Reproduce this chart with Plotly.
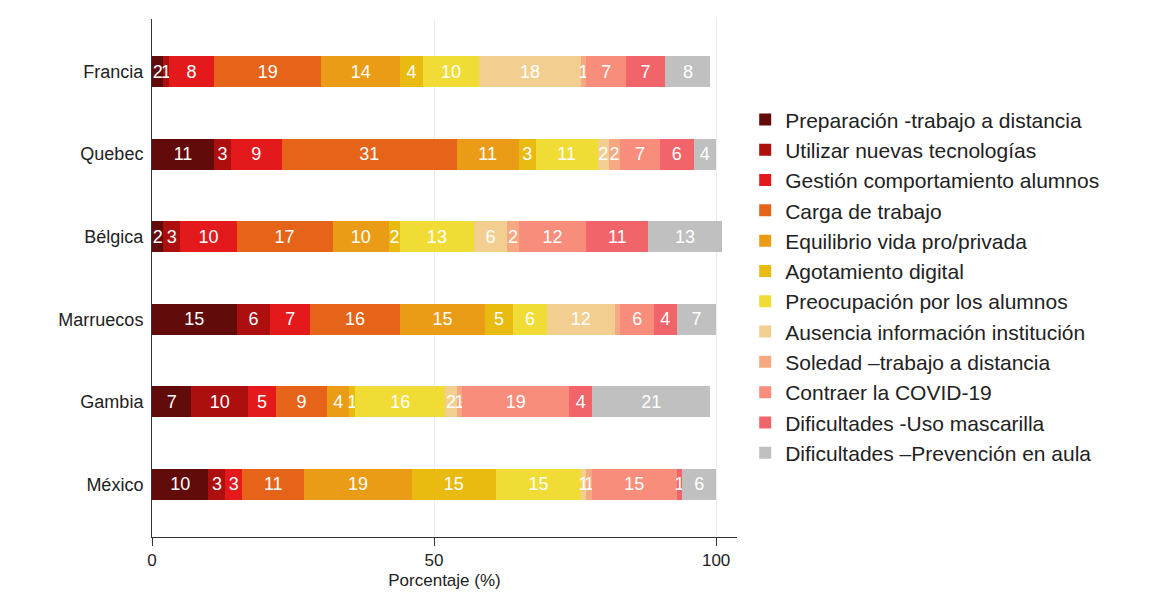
import plotly.graph_objects as go

countries = ["Francia", "Quebec", "Bélgica", "Marruecos", "Gambia", "México"]

categories = [
    "Preparación -trabajo a distancia",
    "Utilizar nuevas tecnologías",
    "Gestión comportamiento alumnos",
    "Carga de trabajo",
    "Equilibrio vida pro/privada",
    "Agotamiento digital",
    "Preocupación por los alumnos",
    "Ausencia información institución",
    "Soledad –trabajo a distancia",
    "Contraer la COVID-19",
    "Dificultades -Uso mascarilla",
    "Dificultades –Prevención en aula",
]

colors = ["#620b0b", "#ad0f0f", "#e3191c", "#e6631a", "#ea9c17", "#e9bb10",
          "#f1dc35", "#f2cf90", "#f6a881", "#f88d7b", "#f1646a", "#c0c0c0"]

# values per category, order = countries
prep         = [2, 11, 2, 15, 7, 10]
utilizar     = [1, 3, 3, 6, 10, 3]
gestion      = [8, 9, 10, 7, 5, 3]
carga        = [19, 31, 17, 16, 9, 11]
equilibrio   = [14, 11, 10, 15, 4, 19]
agotamiento  = [4, 3, 2, 5, 1, 15]
preocupacion = [10, 11, 13, 6, 16, 15]
ausencia     = [18, 2, 6, 12, 2, 1]
soledad      = [1, 2, 2, 1, 1, 1]
contraer     = [7, 7, 12, 6, 19, 15]
mascarilla   = [7, 6, 11, 4, 4, 1]
prevencion   = [8, 4, 13, 7, 21, 6]

series = [prep, utilizar, gestion, carga, equilibrio, agotamiento,
          preocupacion, ausencia, soledad, contraer, mascarilla, prevencion]

# labels not shown in the reference (country, category index)
hidden_labels = [("Marruecos", 8)]

fig = go.Figure()
for i, (name, vals, col) in enumerate(zip(categories, series, colors)):
    texts = []
    for c, v in zip(countries, vals):
        texts.append("" if (c, i) in hidden_labels else str(v))
    fig.add_trace(go.Bar(
        x=vals, y=countries, orientation="h", name=name,
        marker=dict(color=col, line=dict(width=0)),
        text=texts, textposition="inside", insidetextanchor="middle",
        constraintext="none", cliponaxis=False,
        textfont=dict(color="white", size=18, family="Liberation Sans, Arial"),
        legendgroup=f"g{i}", hoverinfo="x+name",
    ))

fig.update_layout(
    barmode="stack",
    bargap=0.625,
    width=1151, height=611,
    margin=dict(l=144, r=422, t=11, b=82),
    paper_bgcolor="white", plot_bgcolor="white",
    font=dict(family="Liberation Sans, Arial", size=17, color="#222"),
    showlegend=True,
    legend=dict(
        x=1.014, xanchor="left", y=0.845, yanchor="top",
        font=dict(size=21, color="#222"),
        tracegroupgap=6, traceorder="normal",
        bgcolor="rgba(0,0,0,0)",
    ),
)
fig.update_xaxes(
    range=[0, 103.7], tickvals=[0, 50, 100],
    showgrid=True, gridcolor="#ececec", gridwidth=1,
    showline=True, linecolor="#333", linewidth=1,
    ticks="outside", ticklen=8, tickcolor="#333",
    zeroline=False,
    title=dict(text="Porcentaje (%)", standoff=4, font=dict(size=17)),
    tickfont=dict(size=17),
)
fig.update_yaxes(
    categoryorder="array", categoryarray=countries,
    range=[5.636, -0.636],
    showline=True, linecolor="#333", linewidth=1,
    ticks="", showgrid=False, tickfont=dict(size=18),
    ticklabelstandoff=4,
)

fig.write_html("out.html")
